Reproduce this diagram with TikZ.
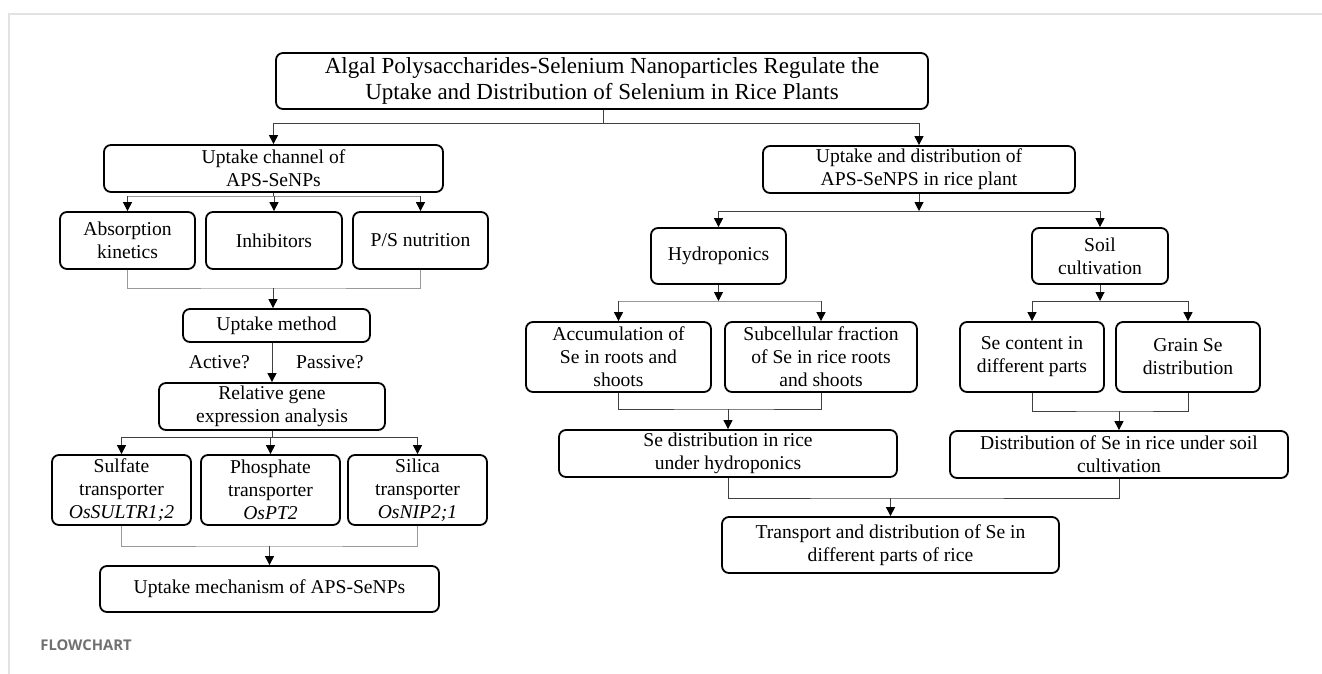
\documentclass[tikz,border=0pt]{standalone}
\usepackage{fontspec}
\setmainfont{Liberation Serif}
\newfontfamily\capfont{Open Sans}
\usepackage{tikz}
\usetikzlibrary{arrows.meta}
\definecolor{capgray}{HTML}{707070}
\definecolor{rulegray}{HTML}{E2E2E2}

\begin{document}
\begin{tikzpicture}[
  x=0.5pt, y=-0.5pt,
  blk/.style={draw, line width=0.9pt, rounded corners=3.5pt, align=center,
    inner sep=1pt, font=\fontsize{9.8}{11.5}\selectfont},
  ttl/.style={blk, font=\fontsize{11.5}{13}\selectfont},
  sz/.style 2 args={minimum width=#1*0.5pt, minimum height=#2*0.5pt},
  lab/.style={font=\fontsize{9.8}{11.5}\selectfont},
  link/.style={draw=black!75, line width=0.5pt},
  faint/.style={draw=black!40, line width=0.5pt},
  arr/.style={link, -{Triangle[length=4.5pt, width=4.5pt, color=black]}},
  frame/.style={draw=rulegray, line width=1pt},
]
  \useasboundingbox (0,0) rectangle (1322,674);
  \draw[frame] (9,674) -- (9,14) -- (1322,14);

  % Title
  \node[ttl, sz={652}{56}] (title) at (602,81)
    {Algal Polysaccharides-Selenium Nanoparticles Regulate the\\Uptake and Distribution of Selenium in Rice Plants};

  % Left branch: uptake channel
  \node[blk, sz={339}{47}] (chan) at (273.5,168.5) {Uptake channel of\\APS-SeNPs};
  \node[blk, sz={135}{57}] (kin)  at (127.5,240.5) {Absorption\\kinetics};
  \node[blk, sz={136}{57}] (inh)  at (274,240.5)   {Inhibitors};
  \node[blk, sz={135}{57}] (psn)  at (420.5,240.5) {P/S nutrition};
  \node[blk, sz={187}{33}] (meth) at (276.5,325.5) {Uptake method};
  \node[blk, sz={226}{47}] (gene) at (272,406.5)   {Relative gene\\expression analysis};
  \node[blk, sz={139}{70}] (sul)  at (121.5,490)   {Sulfate\\transporter\\\textit{OsSULTR1;2}};
  \node[blk, sz={139}{70}] (pho)  at (270.5,490)   {Phosphate\\transporter\\\textit{OsPT2}};
  \node[blk, sz={139}{70}] (sil)  at (417.5,490)   {Silica\\transporter\\\textit{OsNIP2;1}};
  \node[blk, sz={339}{46}] (mech) at (269.5,589)   {Uptake mechanism of APS-SeNPs};

  % Right branch: uptake and distribution
  \node[blk, sz={312}{47}] (dist)  at (919,169.5)  {Uptake and distribution of\\APS-SeNPS in rice plant};
  \node[blk, sz={135}{56}] (hyd)   at (718.5,256)  {Hydroponics};
  \node[blk, sz={136}{56}] (soil)  at (1100,256)   {Soil\\cultivation};
  \node[blk, sz={185}{70}] (acc)   at (618.5,357)  {Accumulation of\\Se in roots and\\shoots};
  \node[blk, sz={192}{70}] (sub)   at (821,357)    {Subcellular fraction\\of Se in rice roots\\and shoots};
  \node[blk, sz={144}{70}] (cont)  at (1032,357)   {Se content in\\different parts};
  \node[blk, sz={144}{70}] (grain) at (1188,357)   {Grain Se\\distribution};
  \node[blk, sz={338}{47}] (hdist) at (728,453.5)  {Se distribution in rice\\under hydroponics};
  \node[blk, sz={338}{47}] (sdist) at (1119,454.5) {Distribution of Se in rice under soil\\cultivation};
  \node[blk, sz={337}{56}] (trans) at (890.5,545)  {Transport and distribution of Se in\\different parts of rice};

  \node[font=\capfont\bfseries\fontsize{7.4}{9}\selectfont, text=capgray,
    anchor=west, inner sep=0pt] (cap) at (40,645) {FLOWCHART};

  % Title to both branches
  \coordinate (jt) at (603,124);
  \draw[link] (title.south -| jt) -- (jt);
  \draw[arr] (jt) -| (chan.north);
  \draw[arr] (jt) -| (dist.north);

  % Channel to the three tests
  \coordinate (jc) at (273.5,196);
  \draw[link] (chan.south) -- (jc);
  \draw[faint] (kin.north |- jc) -- (psn.north |- jc);
  \foreach \b in {kin, inh, psn}
    \draw[arr] (\b.north |- jc) -- (\b.north);

  % Tests to uptake method
  \coordinate (jm) at (273,288);
  \draw[faint] (kin.south) |- (jm) -| (psn.south);
  \draw[arr] (jm) -- (jm |- meth.north);

  \draw[arr] (gene.north |- meth.south) -- (gene.north)
    node[lab, midway, left=7.5pt] (act) {Active?}
    node[lab, midway, right=8.5pt] (pas) {Passive?};

  % Gene expression to transporters
  \coordinate (jg) at (272,437);
  \draw[link] (gene.south) -- (jg);
  \draw[link] (sul.north |- jg) -- (sil.north |- jg);
  \foreach \b in {sul, pho, sil}
    \draw[arr] (\b.north |- jg) -- (\b.north);

  \coordinate (jx) at (269.5,546);
  \draw[faint] (sul.south) |- (jx) -| (sil.south);
  \draw[arr] (jx) -- (mech.north);

  % Right branch
  \coordinate (jd) at (919,211);
  \draw[arr] (dist.south) -- (jd);
  \draw[link] (hyd.north |- jd) -- (soil.north |- jd);
  \foreach \b in {hyd, soil}
    \draw[arr] (\b.north |- jd) -- (\b.north);

  \coordinate (jh) at (718.5,301);
  \draw[arr] (hyd.south) -- (jh);
  \draw[faint] (acc.north |- jh) -- (sub.north |- jh);
  \foreach \b in {acc, sub}
    \draw[arr] (\b.north |- jh) -- (\b.north);

  \coordinate (js) at (1100,301);
  \draw[arr] (soil.south) -- (js);
  \draw[link] (cont.north |- js) -- (grain.north |- js);
  \foreach \b in {cont, grain}
    \draw[arr] (\b.north |- js) -- (\b.north);

  \coordinate (jhd) at (728,409);
  \draw[link] (acc.south) |- (jhd) -| (sub.south);
  \draw[arr] (jhd) -- (hdist.north);

  \coordinate (jsd) at (1119,411);
  \draw[link] (cont.south) |- (jsd) -| (grain.south);
  \draw[arr] (jsd) -- (sdist.north);

  \coordinate (jtr) at (890.5,498);
  \draw[link] (hdist.south) |- (jtr) -| (sdist.south);
  \draw[arr] (jtr) -- (trans.north);
\end{tikzpicture}
\end{document}
